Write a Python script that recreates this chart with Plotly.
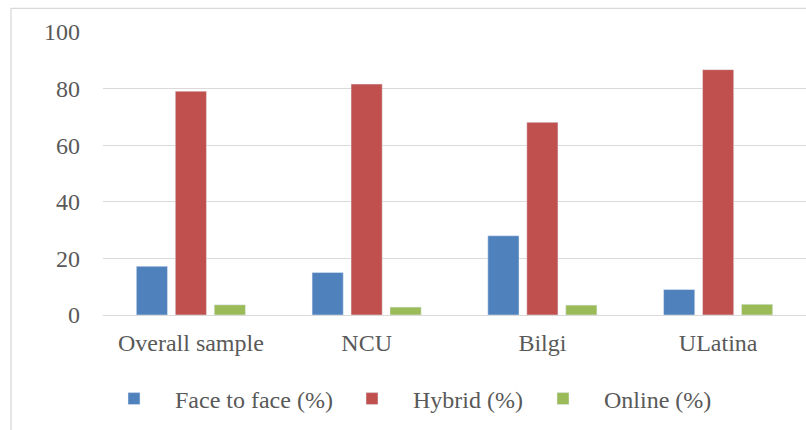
import plotly.graph_objects as go

categories = ["Overall sample", "NCU", "Bilgi", "ULatina"]
face_to_face = [17.2, 15.0, 28.0, 9.0]
hybrid = [79.1, 81.6, 68.1, 86.7]
online = [3.6, 2.8, 3.5, 3.8]
y_ticks = [0, 20, 40, 60, 80, 100]

FONT = "Liberation Serif, Times New Roman, Times, serif"
GRAY = "#595959"

W, H = 806, 430
ml, mr, mt, mb = 103, 0, 32, 115
pw, ph = W - ml - mr, H - mt - mb

def px_to_paper_x(px):
    return (px - ml) / pw

def px_to_paper_y(py):
    return (H - mb - py) / ph

fig = go.Figure()
fig.add_trace(go.Bar(x=categories, y=face_to_face, name="Face to face (%)", marker_color="#4f81bd",
                     legend="legend", showlegend=True))
fig.add_trace(go.Bar(x=categories, y=hybrid, name="Hybrid (%)", marker_color="#c0504d",
                     legend="legend2", showlegend=True))
fig.add_trace(go.Bar(x=categories, y=online, name="Online (%)", marker_color="#9bbb59",
                     legend="legend3", showlegend=True))

def leg(xpx):
    return dict(orientation="h", x=px_to_paper_x(xpx), xanchor="left",
                y=px_to_paper_y(399), yanchor="middle",
                font=dict(family=FONT, size=24, color=GRAY),
                itemwidth=72, bgcolor="rgba(0,0,0,0)", visible=True)

fig.update_layout(
    width=W, height=H,
    margin=dict(l=ml, r=mr, t=mt, b=mb),
    paper_bgcolor="white", plot_bgcolor="white",
    showlegend=True,
    barmode="group", bargap=0.335, bargroupgap=0.2,
    font=dict(family=FONT, size=24, color=GRAY),
    legend=leg(93), legend2=leg(331), legend3=leg(522),
    xaxis=dict(showgrid=False, showline=True, linecolor="#d9d9d9", linewidth=1.3,
               ticks="", tickfont=dict(family=FONT, size=24, color=GRAY),
               ticklabelstandoff=6),
    yaxis=dict(range=[0, 100], tickvals=y_ticks, showgrid=True, gridcolor="#d9d9d9",
               gridwidth=1.3, zeroline=False, showline=False, ticks="",
               tickfont=dict(family=FONT, size=24, color=GRAY), ticklabelstandoff=22),
    shapes=[dict(type="rect", xref="paper", yref="paper",
                 x0=px_to_paper_x(11), x1=px_to_paper_x(840),
                 y0=px_to_paper_y(470), y1=px_to_paper_y(8.3),
                 line=dict(color="#d9d9d9", width=1.3), fillcolor="rgba(0,0,0,0)", layer="below")],
)

fig.write_html("out.html", config={"displayModeBar": False},
               post_script="document.body.style.margin='0';document.body.style.padding='0';")
